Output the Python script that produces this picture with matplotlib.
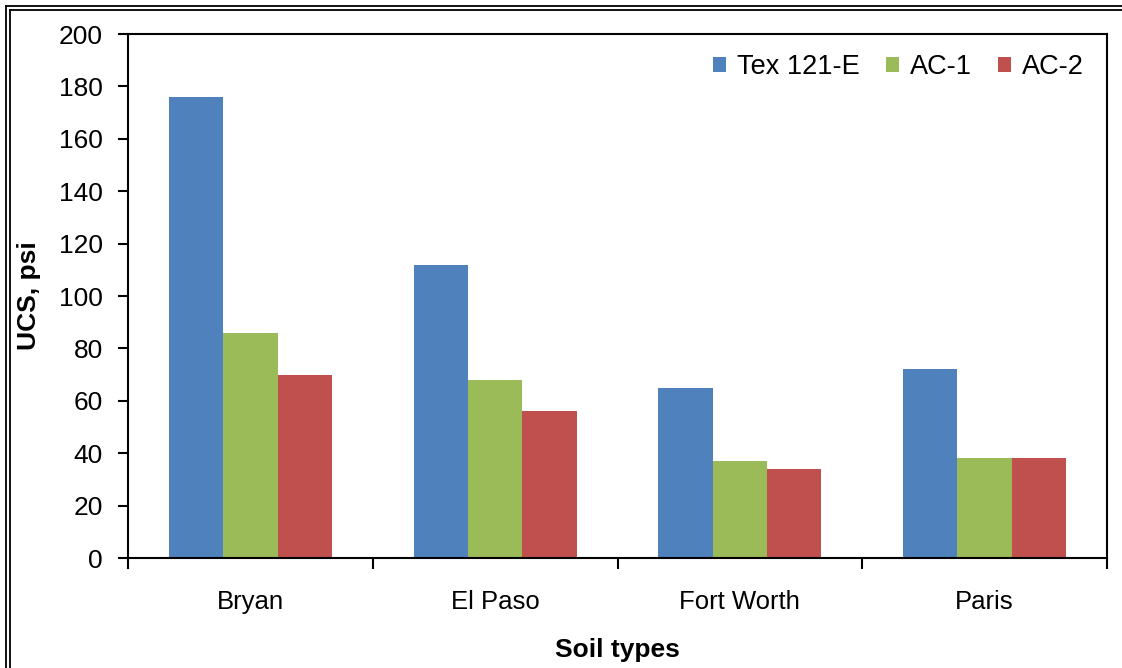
import matplotlib
matplotlib.use("Agg")
import matplotlib.pyplot as plt
from matplotlib.lines import Line2D
import numpy as np

plt.rcParams['font.family'] = ['Liberation Sans', 'DejaVu Sans']

soils = ["Bryan", "El Paso", "Fort Worth", "Paris"]
series_names = ["Tex 121-E", "AC-1", "AC-2"]
tex_121e = [176, 112, 65, 72]
ac_1 = [86, 68, 37, 38]
ac_2 = [70, 56, 34, 38]
colors = ["#4F81BD", "#9BBB59", "#C0504D"]
yticks = list(range(0, 201, 20))

W, H = 1122, 668
fig = plt.figure(figsize=(W / 100, H / 100), dpi=100)
ax = fig.add_axes([128 / W, 1 - 558 / H, (1107 - 128) / W, (558 - 34) / H])

x = np.arange(len(soils))
bw = 0.222
for i, (vals, name, c) in enumerate(zip([tex_121e, ac_1, ac_2], series_names, colors)):
    ax.bar(x + (i - 1) * bw, vals, width=bw, color=c, label=name, linewidth=0)

ax.set_xlim(-0.5, len(soils) - 0.5)
ax.set_ylim(0, 200)
ax.set_yticks(yticks)
ax.set_xticks(x)
ax.set_xticklabels(soils)
ax.set_xticks(np.arange(-0.5, len(soils)), minor=True)
ax.tick_params(axis='x', which='major', length=0, pad=23, labelsize=18.5)
ax.tick_params(axis='x', which='minor', direction='out', length=8, width=1.5)
ax.tick_params(axis='y', direction='out', length=7, width=1.5, labelsize=19, pad=11)
for s in ax.spines.values():
    s.set_linewidth(1.5)

ax.set_xlabel("Soil types", fontsize=19, fontweight='bold', labelpad=17)
ax.set_ylabel("UCS, psi", fontsize=19, fontweight='bold', labelpad=13)

leg = ax.legend(loc='upper right', ncol=3, frameon=False, fontsize=19.5,
                handlelength=0.5, handleheight=0.5, handletextpad=0.4,
                columnspacing=0.95, borderaxespad=0.2, bbox_to_anchor=(0.993, 0.993))

# double frame around the figure
for off in (6, 10):
    fig.add_artist(Line2D([off / W, off / W], [0, 1 - off / H], transform=fig.transFigure,
                          color='black', linewidth=1.3))
    fig.add_artist(Line2D([off / W, 1], [1 - off / H, 1 - off / H], transform=fig.transFigure,
                          color='black', linewidth=1.3))

fig.savefig("out.png", dpi=100)
